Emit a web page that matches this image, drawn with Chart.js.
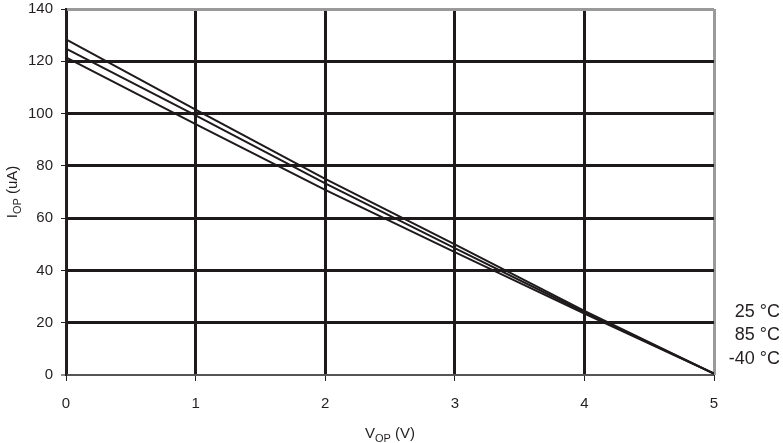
<!DOCTYPE html>
<html>
<head>
<meta charset="utf-8">
<script src="https://cdn.jsdelivr.net/npm/chart.js@4"></script>
<style>
  html, body { margin: 0; padding: 0; background: #fff; }
  #wrap { width: 783px; height: 443px; }
</style>
</head>
<body>
<div id="wrap"><canvas id="chart" width="783" height="443"></canvas></div>
<script>
// Data
const voltages = [0, 1, 2, 3, 4, 5];
const current25 = [128.4, 101.5, 75.0, 50.0, 24.5, 0.5];
const current85 = [124.8, 99.3, 73.3, 48.5, 24.0, 0.5];
const currentMinus40 = [121.5, 96.0, 70.8, 47.0, 23.5, 0.5];
const seriesLabels = ['25 °C', '85 °C', '-40 °C'];
const yTicks = [0, 20, 40, 60, 80, 100, 120, 140];
const xTicks = [0, 1, 2, 3, 4, 5];

const lineColor = '#1e1a1b';
const font = 'Liberation Sans, Arial, sans-serif';

function toPoints(values) {
    return voltages.map((v, i) => ({ x: v, y: values[i] }));
}

// Axis titles with subscripts and the temperature labels on the right
const annotations = {
    id: 'annotations',
    afterDraw(chart) {
        const ctx = chart.ctx;
        const area = chart.chartArea;
        ctx.save();
        ctx.fillStyle = '#231f20';
        ctx.textBaseline = 'alphabetic';

        // x title: V_OP (V)
        const xMid = (area.left + area.right) / 2;
        drawSub(ctx, 'V', 'OP', ' (V)', xMid, 438, 15);

        // y title rotated: I_OP (uA)
        ctx.save();
        ctx.translate(17, (area.top + area.bottom) / 2);
        ctx.rotate(-Math.PI / 2);
        drawSub(ctx, 'I', 'OP', ' (uA)', 0, 0, 15);
        ctx.restore();

        // temperature labels
        ctx.font = '18px ' + font;
        ctx.textAlign = 'right';
        const ys = [317, 340, 364];
        seriesLabels.forEach((label, i) => ctx.fillText(label, 780, ys[i]));
        ctx.restore();
    }
};

function drawSub(ctx, main, sub, rest, cx, y, size) {
    ctx.font = size + 'px ' + font;
    const w1 = ctx.measureText(main).width;
    ctx.font = Math.round(size * 0.7) + 'px ' + font;
    const w2 = ctx.measureText(sub).width;
    ctx.font = size + 'px ' + font;
    const w3 = ctx.measureText(rest).width;
    let x = cx - (w1 + w2 + w3) / 2;
    ctx.textAlign = 'left';
    ctx.fillText(main, x, y);
    x += w1;
    ctx.font = Math.round(size * 0.7) + 'px ' + font;
    ctx.fillText(sub, x, y + 4);
    x += w2;
    ctx.font = size + 'px ' + font;
    ctx.fillText(rest, x, y);
}

const makeSet = (label, values) => ({
    label: label,
    data: toPoints(values),
    borderColor: lineColor,
    borderWidth: 2,
    pointRadius: 0,
    fill: false,
    tension: 0
});

new Chart(document.getElementById('chart'), {
    type: 'line',
    data: {
        datasets: [
            makeSet(seriesLabels[0], current25),
            makeSet(seriesLabels[1], current85),
            makeSet(seriesLabels[2], currentMinus40)
        ]
    },
    options: {
        responsive: false,
        animation: false,
        layout: { padding: { top: 9, right: 69, left: 0, bottom: 0 } },
        plugins: {
            legend: { display: false },
            tooltip: { enabled: false }
        },
        scales: {
            x: {
                type: 'linear',
                min: 0,
                max: 5,
                afterBuildTicks: axis => { axis.ticks = xTicks.map(v => ({ value: v })); },
                afterFit: axis => {
                    axis.height = 68;
                    axis.paddingLeft = 0;
                    axis.paddingRight = 0;
                },
                ticks: {
                    color: '#231f20',
                    font: { family: font, size: 15 },
                    padding: 14,
                    maxRotation: 0
                },
                grid: {
                    color: ctx => ctx.tick && ctx.tick.value === 5 ? '#9a9a9a' : '#1e1a1b',
                    lineWidth: 3,
                    tickColor: '#231f20',
                    tickWidth: 1,
                    tickLength: 6
                },
                border: { display: false }
            },
            y: {
                min: 0,
                max: 140,
                afterBuildTicks: axis => { axis.ticks = yTicks.map(v => ({ value: v })); },
                afterFit: axis => {
                    axis.width = 66;
                    axis.paddingTop = 0;
                    axis.paddingBottom = 0;
                },
                ticks: {
                    color: '#231f20',
                    font: { family: font, size: 15 },
                    padding: 8
                },
                grid: {
                    color: ctx => {
                        if (!ctx.tick) return '#1e1a1b';
                        if (ctx.tick.value === 140) return '#9a9a9a';
                        if (ctx.tick.value === 0) return '#555';
                        return '#1e1a1b';
                    },
                    lineWidth: ctx => ctx.tick && ctx.tick.value === 0 ? 2 : 3,
                    tickColor: '#231f20',
                    tickWidth: 1,
                    tickLength: 5
                },
                border: { display: true, color: '#231f20', width: 2 }
            }
        }
    },
    plugins: [annotations]
});
</script>
</body>
</html>
